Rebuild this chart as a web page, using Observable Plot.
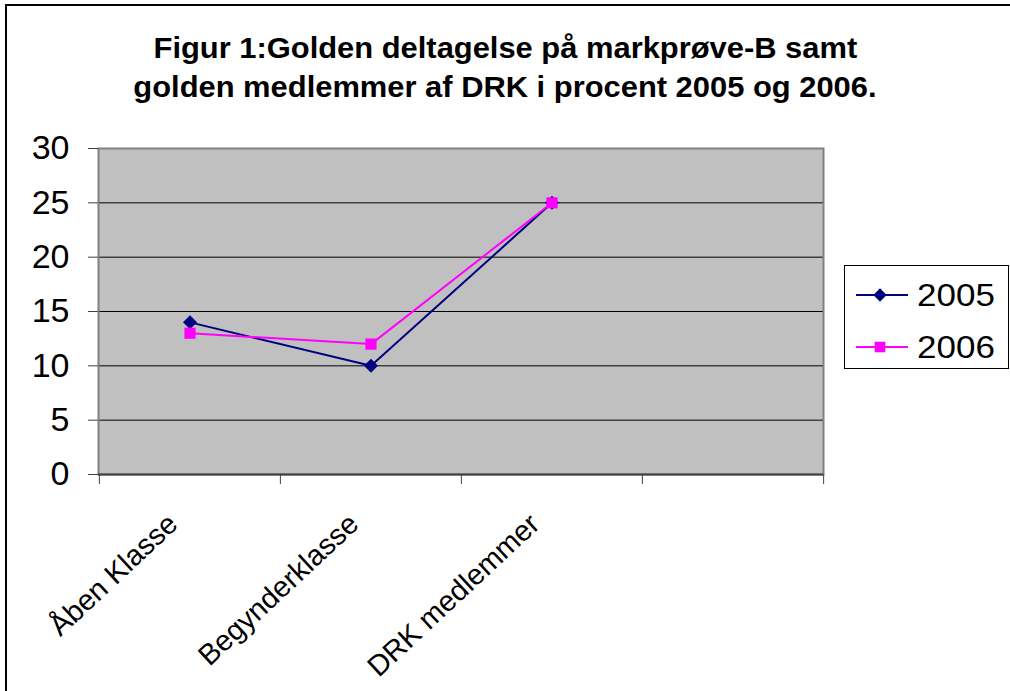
<!DOCTYPE html>
<html>
<head>
<meta charset="utf-8">
<script src="https://cdn.jsdelivr.net/npm/d3@7"></script>
<script src="https://cdn.jsdelivr.net/npm/@observablehq/plot@0.6"></script>
<style>
  html, body { margin: 0; padding: 0; background: #fff; }
  body { width: 1010px; height: 691px; overflow: hidden; position: relative; font-family: "Liberation Sans", Arial, sans-serif; }
  #border { position: absolute; left: 5px; top: 4px; width: 1100px; height: 800px; border-left: 2px solid #000; border-top: 2px solid #000; box-sizing: border-box; pointer-events: none; }
  #title { box-sizing: border-box; height: 110px; padding-top: 29px; text-align: center; font-weight: bold; font-size: 29px; line-height: 39px; color: #000; }
  #title span { display: inline-block; transform: scaleX(1.065); transform-origin: 50% 50%; }
  #chart { display: block; }
  #legend { position: absolute; left: 844px; top: 265px; width: 165px; height: 104px; border: 1px solid #000; background: #fff; box-sizing: border-box; }
</style>
</head>
<body>
<div id="border"></div>
<div id="title"><span>Figur 1:Golden deltagelse på markprøve-B samt</span><br><span>golden medlemmer af DRK i procent 2005 og 2006.</span></div>
<div id="chart"></div>
<div id="legend"></div>
<script>
// ---- data ----
const categories = ["Åben Klasse", "Begynderklasse", "DRK medlemmer", ""];
const series = ["2005", "2006"];
const values2005 = [14, 10, 25];
const values2006 = [13, 12, 25];
const yTicks = [0, 5, 10, 15, 20, 25, 30];
const seriesColors = ["#000080", "#FF00FF"];
const seriesSymbols = ["diamond2", "square"];

const rows = [];
[values2005, values2006].forEach((vals, si) => {
  vals.forEach((v, i) => rows.push({ series: series[si], category: categories[i], value: v }));
});

const W = 1010, H = 581, mL = 98, mR = 187, mT = 38, mB = 217;
const bw = (W - mL - mR) / categories.length;

const chart = Plot.plot({
  width: W, height: H,
  marginLeft: mL, marginRight: mR, marginTop: mT, marginBottom: mB,
  style: { fontFamily: "Liberation Sans, Arial, sans-serif", background: "transparent", overflow: "visible" },
  x: { type: "band", domain: categories, padding: 0 },
  y: { domain: [0, 30] },
  color: { domain: series, range: seriesColors },
  symbol: { domain: series, range: seriesSymbols },
  marks: [
    Plot.frame({ fill: "#C0C0C0" }),
    Plot.ruleY(yTicks.filter(t => t > 0 && t < 30), { stroke: "#000", strokeWidth: 1 }),
    Plot.frame({ stroke: "#808080", strokeWidth: 2 }),
    Plot.ruleY([0], { stroke: "#404040", strokeWidth: 2 }),
    Plot.axisY({ ticks: yTicks, tickSize: 10, tickPadding: 19, fontSize: 34, label: null, stroke: "#404040" }),
    Plot.axisX({ ticks: categories, tickSize: 10, tickFormat: () => "", dx: -bw / 2, label: null, stroke: "#404040" }),
    Plot.axisX({ ticks: [categories[categories.length - 1]], tickSize: 10, tickFormat: () => "", dx: bw / 2, label: null, stroke: "#404040" }),
    Plot.axisX({ ticks: categories.slice(0, 3), tickSize: 0, tickRotate: -43, tickPadding: 45, dx: -17, fontSize: 29, label: null }),
    Plot.line(rows, { x: "category", y: "value", z: "series", stroke: "series", strokeWidth: 2 }),
    Plot.dot(rows, { x: "category", y: "value", fill: "series", symbol: "series", r: 6.3, stroke: "none" })
  ]
});
document.getElementById("chart").appendChild(chart);

// ---- legend ----
const lg = d3.select("#legend").append("svg").attr("width", 163).attr("height", 102).style("display", "block");
series.forEach((s, i) => {
  const cy = 29 + i * 52;
  const g = lg.append("g");
  g.append("line").attr("x1", 11).attr("x2", 63).attr("y1", cy).attr("y2", cy).attr("stroke", seriesColors[i]).attr("stroke-width", 2);
  const sym = i === 0 ? d3.symbolDiamond2 : d3.symbolSquare;
  g.append("path").attr("d", d3.symbol(sym, Math.PI * 6 * 6)()).attr("transform", `translate(35,${cy})`).attr("fill", seriesColors[i]);
  g.append("text").attr("x", 72).attr("y", cy).attr("dy", "0.35em")
    .attr("font-size", 31).attr("font-family", "Liberation Sans, Arial, sans-serif")
    .attr("transform", `translate(72,0) scale(1.13,1) translate(-72,0)`)
    .text(s);
});
</script>
</body>
</html>
